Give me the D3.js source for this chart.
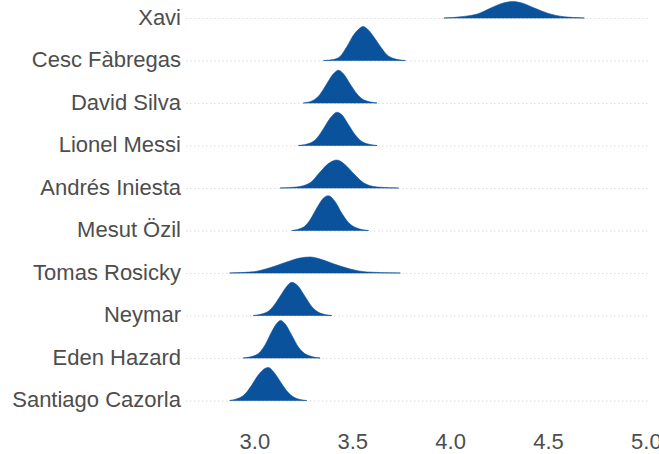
<!DOCTYPE html>
<html>
<head>
<meta charset="utf-8">
<script src="https://cdn.jsdelivr.net/npm/d3@7"></script>
<style>
  html, body { margin: 0; padding: 0; background: #fff; }
  svg { display: block; }
</style>
</head>
<body>
<svg id="chart" width="659" height="454"></svg>
<script>
// Players, top to bottom
const players = ["Xavi", "Cesc Fàbregas", "David Silva", "Lionel Messi", "Andrés Iniesta",
  "Mesut Özil", "Tomas Rosicky", "Neymar", "Eden Hazard", "Santiago Cazorla"];

// Density curves: rating values and density heights
const xaviX = [3.968, 4.071, 4.139, 4.208, 4.268, 4.319, 4.370, 4.430, 4.498, 4.584, 4.686];
const xaviD = [0, 0.4, 1.0, 2.5, 3.7, 4.1, 3.7, 2.5, 1.2, 0.3, 0];

const cescX = [3.353, 3.404, 3.438, 3.473, 3.507, 3.532, 3.555, 3.579, 3.609, 3.644, 3.678, 3.712, 3.772];
const cescD = [0, 0.25, 1.0, 3.5, 6.4, 7.8, 8.5, 7.8, 6.0, 3.5, 1.4, 0.5, 0];

const silvaX = [3.250, 3.302, 3.336, 3.370, 3.404, 3.430, 3.455, 3.490, 3.524, 3.558, 3.627];
const silvaD = [0, 0.7, 2.2, 4.8, 7.3, 8.2, 7.3, 4.7, 2.3, 0.8, 0];

const messiX = [3.225, 3.285, 3.319, 3.353, 3.387, 3.422, 3.447, 3.481, 3.515, 3.558, 3.627];
const messiD = [0, 0.6, 1.8, 4.2, 6.8, 8.3, 7.7, 5.2, 2.7, 0.75, 0];

const iniestaX = [3.131, 3.216, 3.285, 3.336, 3.378, 3.422, 3.464, 3.507, 3.558, 3.627, 3.737];
const iniestaD = [0, 0.25, 1.3, 4.0, 6.1, 7.0, 5.8, 3.6, 1.3, 0.25, 0];

const ozilX = [3.191, 3.250, 3.285, 3.319, 3.353, 3.378, 3.413, 3.447, 3.481, 3.524, 3.584];
const ozilD = [0, 0.8, 2.7, 5.6, 8.1, 8.7, 7.2, 4.3, 2.0, 0.6, 0];

const rosickyX = [2.874, 2.994, 3.079, 3.165, 3.233, 3.285, 3.336, 3.404, 3.490, 3.575, 3.746];
const rosickyD = [0, 0.3, 1.3, 2.75, 3.75, 4.0, 3.5, 2.3, 1.0, 0.25, 0];

const neymarX = [2.994, 3.063, 3.096, 3.131, 3.165, 3.191, 3.225, 3.259, 3.293, 3.336, 3.396];
const neymarD = [0, 0.8, 2.25, 4.75, 7.25, 8.3, 7.25, 4.75, 2.25, 0.6, 0];

const hazardX = [2.943, 3.011, 3.054, 3.088, 3.114, 3.134, 3.156, 3.191, 3.225, 3.268, 3.336];
const hazardD = [0, 0.8, 3.2, 6.5, 8.6, 9.4, 8.6, 5.7, 2.75, 0.8, 0];

const cazorlaX = [2.874, 2.943, 2.986, 3.019, 3.054, 3.071, 3.105, 3.139, 3.173, 3.216, 3.268];
const cazorlaD = [0, 1.2, 3.8, 6.3, 8.0, 8.25, 6.75, 4.25, 2.0, 0.5, 0];

const curvesX = [xaviX, cescX, silvaX, messiX, iniestaX, ozilX, rosickyX, neymarX, hazardX, cazorlaX];
const curvesD = [xaviD, cescD, silvaD, messiD, iniestaD, ozilD, rosickyD, neymarD, hazardD, cazorlaD];

const xTicks = [3.0, 3.5, 4.0, 4.5, 5.0];
const xDomain = [2.651, 5.021];

// ---- layout ----
const svg = d3.select("#chart");
const fill = "#0b529c";
const textColor = "#4d4d4d";
const font = "'Liberation Sans', Arial, Helvetica, sans-serif";

const x = d3.scaleLinear().domain(xDomain).range([186, 650]);
const y = d3.scalePoint().domain(players).range([18, 400.5]);
const h = d3.scaleLinear().domain([0, 1]).range([0, 4]); // px per density unit

// gridlines at baselines
svg.append("g").selectAll("line").data(players).join("line")
  .attr("x1", x.range()[0]).attr("x2", x.range()[1])
  .attr("y1", d => y(d) + 0.5).attr("y2", d => y(d) + 0.5)
  .attr("stroke", "#dcdcdc").attr("stroke-width", 1)
  .attr("stroke-dasharray", "1.5,2.5");

// ridges
const ridges = svg.append("g");
players.forEach((p, i) => {
  const pts = curvesX[i].map((v, j) => [v, curvesD[i][j]]);
  const area = d3.area()
    .x(d => x(d[0]))
    .y0(y(p))
    .y1(d => y(p) - h(d[1]))
    .curve(d3.curveMonotoneX);
  ridges.append("path")
    .attr("d", area(pts))
    .attr("fill", fill)
    .attr("stroke", fill)
    .attr("stroke-width", 0.6)
    .attr("stroke-linejoin", "round");
});

// y-axis labels
svg.append("g").selectAll("text").data(players).join("text")
  .attr("x", 181).attr("y", d => y(d) + 1)
  .attr("text-anchor", "end")
  .attr("dominant-baseline", "middle")
  .attr("font-family", font).attr("font-size", 22)
  .attr("fill", textColor)
  .text(d => d);

// x-axis tick labels
const xAxis = d3.axisBottom(x).tickValues(xTicks).tickFormat(d3.format(".1f")).tickSize(0).tickPadding(0);
const gx = svg.append("g").attr("transform", "translate(0,433)").call(xAxis);
gx.select(".domain").remove();
gx.selectAll("text")
  .attr("font-family", font).attr("font-size", 22)
  .attr("fill", textColor)
  .attr("dy", "0.35em").attr("y", 8);
</script>
</body>
</html>
